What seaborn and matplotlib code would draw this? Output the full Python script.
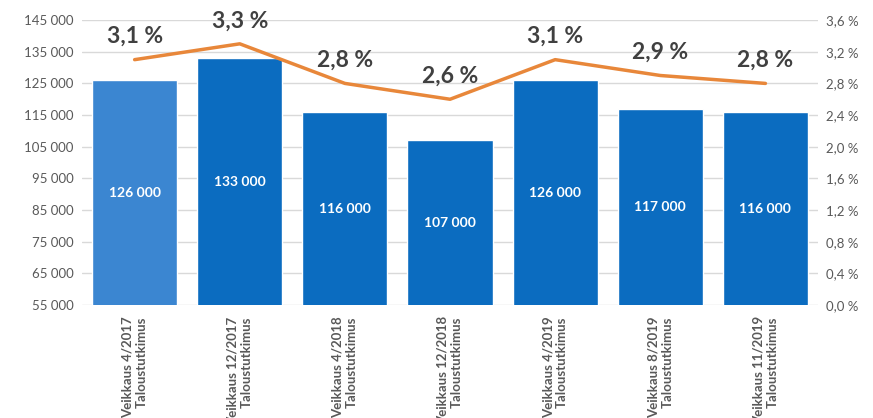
import matplotlib
matplotlib.use("Agg")
import matplotlib.pyplot as plt
import seaborn as sns
import numpy as np
import pandas as pd

categories = ["Veikkaus 4/2017\nTaloustutkimus", "Veikkaus 12/2017\nTaloustutkimus",
              "Veikkaus 4/2018\nTaloustutkimus", "Veikkaus 12/2018\nTaloustutkimus",
              "Veikkaus 4/2019\nTaloustutkimus", "Veikkaus 8/2019\nTaloustutkimus",
              "Veikkaus 11/2019\nTaloustutkimus"]
bar_values = [126000, 133000, 116000, 107000, 126000, 117000, 116000]
bar_labels = ["126 000", "133 000", "116 000", "107 000", "126 000", "117 000", "116 000"]
rate_values = [3.1, 3.3, 2.8, 2.6, 3.1, 2.9, 2.8]
rate_labels = ["3,1 %", "3,3 %", "2,8 %", "2,6 %", "3,1 %", "2,9 %", "2,8 %"]
left_ticks = [55000, 65000, 75000, 85000, 95000, 105000, 115000, 125000, 135000, 145000]
right_ticks = [0.0, 0.4, 0.8, 1.2, 1.6, 2.0, 2.4, 2.8, 3.2, 3.6]

sns.set_theme(style="white")
plt.rcParams['font.family'] = ['Lato', 'DejaVu Sans']

bar_colors = ["#3b86d1"] + ["#0b6cc0"] * 6
df = pd.DataFrame({"pos": np.arange(len(categories)), "value": bar_values, "rate": rate_values})

fig = plt.figure(figsize=(8.73, 4.18), dpi=100)
ax = fig.add_axes([0.094, 0.270, 0.843, 0.682])
sns.barplot(data=df, x="pos", y="value", hue="pos", palette=bar_colors, legend=False,
            width=0.81, ax=ax, saturation=1)
ax.set_ylim(55000, 145000)
ax.set_yticks(left_ticks)
ax.set_yticklabels([f"{t:,}".replace(",", " ") for t in left_ticks], fontsize=9.5, color="#595959")
ax.grid(axis="y", color="#d9d9d9", linewidth=1)
ax.set_axisbelow(True)
ax.set_xlim(-0.5, len(categories) - 0.5)
ax.set_xticks(np.arange(len(categories)))
ax.set_xticklabels(categories, rotation=90, fontsize=9.5, fontweight="bold", color="#595959",
                   ha="center", va="top", multialignment="right")
ax.set_xlabel("")
ax.set_ylabel("")
ax.tick_params(axis="x", length=0, pad=8)
ax.tick_params(axis="y", length=0, pad=6)
for s in ax.spines.values():
    s.set_visible(False)

for i, (v, lab) in enumerate(zip(bar_values, bar_labels)):
    ax.text(i, (55000 + v) / 2, lab, ha="center", va="center", color="white",
            fontsize=10, fontweight="bold")

ax2 = ax.twinx()
sns.lineplot(data=df, x="pos", y="rate", color="#e8873a", linewidth=2.5, ax=ax2)
ax2.set_ylim(0, 3.6)
ax2.set_yticks(right_ticks)
ax2.set_yticklabels([f"{t:.1f} %".replace(".", ",") for t in right_ticks], fontsize=9.5, color="#595959")
ax2.set_xlim(-0.5, len(categories) - 0.5)
ax2.set_ylabel("")
ax2.set_xlabel("")
ax2.tick_params(axis="y", length=0, pad=6)
for s in ax2.spines.values():
    s.set_visible(False)
for i, (r, lab) in enumerate(zip(rate_values, rate_labels)):
    ax2.annotate(lab, (i, r), xytext=(0, 9), textcoords="offset points", ha="center", va="bottom",
                 fontsize=16.5, fontweight="bold", color="#404040")

fig.savefig("out.png", dpi=100)
